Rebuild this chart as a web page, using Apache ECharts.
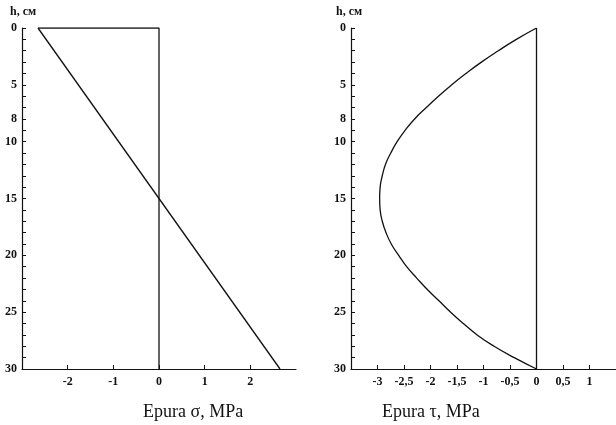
<!DOCTYPE html>
<html>
<head>
<meta charset="utf-8">
<script src="https://cdn.jsdelivr.net/npm/echarts@6/dist/echarts.min.js"></script>
<style>
  html, body { margin: 0; padding: 0; background: #fff; }
  #main { width: 616px; height: 425px; }
</style>
</head>
<body>
<div id="main"></div>
<script>
// data
var hLabels = [0, 5, 8, 10, 15, 20, 25, 30];
var hTicks = [];
for (var i = 0; i <= 30; i++) hTicks.push(i);

// epura sigma: linear, from top to bottom
var sigmaH = [0, 30];
var sigmaVal = [-2.65, 2.65];

// epura tau: curve, h vs tau
var tauH = [0, 1, 2, 3, 4, 5, 6, 7, 8, 9, 10, 11, 12, 13, 14, 15,
  16, 17, 18, 19, 20, 21, 22, 23, 24, 25, 26, 27, 28, 29, 30];
var tauVal = [0, -0.38, -0.72, -1.04, -1.33, -1.6, -1.85, -2.08, -2.3, -2.48, -2.63, -2.75, -2.85, -2.91, -2.95, -2.96,
  -2.95, -2.91, -2.84, -2.74, -2.6, -2.45, -2.26, -2.06, -1.84, -1.62, -1.38, -1.12, -0.8, -0.42, 0];

var ink = '#111';
var serif = '"Liberation Serif", "DejaVu Serif", serif';

function pairs(xs, ys) {
  return xs.map(function (x, i) { return [x, ys[i]]; });
}

function yAx(idx) {
  return {
    gridIndex: idx, type: 'value', inverse: true, min: 0, max: 30,
    axisLine: { show: true, onZero: false, lineStyle: { color: ink, width: 1.2 } },
    axisTick: { show: true, inside: true, length: 4, customValues: hTicks, lineStyle: { color: ink } },
    axisLabel: { customValues: hLabels, color: ink, fontFamily: serif, fontWeight: 'bold', fontSize: 12, margin: 5 },
    splitLine: { show: false }
  };
}

function xAx(idx, min, max, step) {
  return {
    gridIndex: idx, type: 'value', min: min, max: max, interval: step,
    axisLine: { show: true, onZero: false, lineStyle: { color: ink, width: 1.2 } },
    axisTick: { show: true, inside: true, length: 4, lineStyle: { color: ink } },
    axisLabel: {
      showMinLabel: false, showMaxLabel: false, color: ink, fontFamily: serif,
      fontWeight: 'bold', fontSize: 12, margin: 7,
      formatter: function (v) { return String(v).replace('.', ','); }
    },
    splitLine: { show: false }
  };
}

var lineStyle = { color: ink, width: 1.3 };

var myChart = echarts.init(document.getElementById('main'));
myChart.setOption({
  animation: false,
  backgroundColor: '#fff',
  grid: [
    { left: 22, top: 28, width: 274, height: 341 },
    { left: 351, top: 28, width: 265, height: 341 }
  ],
  xAxis: [xAx(0, -3, 3, 1), xAx(1, -3.5, 1.5, 0.5)],
  yAxis: [yAx(0), yAx(1)],
  graphic: [
    { type: 'text', left: 10, top: 6, style: { text: 'h, см', fill: ink, font: 'bold 12px ' + serif } },
    { type: 'text', left: 336, top: 6, style: { text: 'h, см', fill: ink, font: 'bold 12px ' + serif } },
    { type: 'text', left: 143, top: 403, style: { text: 'Epura σ, MPa', fill: ink, font: '18px ' + serif } },
    { type: 'text', left: 382, top: 403, style: { text: 'Epura τ, MPa', fill: ink, font: '18px ' + serif } }
  ],
  series: [
    {
      name: 'sigma', type: 'line', xAxisIndex: 0, yAxisIndex: 0, symbol: 'none',
      lineStyle: lineStyle, data: pairs(sigmaVal, sigmaH)
    },
    {
      name: 'sigma frame', type: 'line', xAxisIndex: 0, yAxisIndex: 0, symbol: 'none',
      lineStyle: lineStyle, data: [[sigmaVal[0], 0], [0, 0], [0, 30]]
    },
    {
      name: 'tau', type: 'line', xAxisIndex: 1, yAxisIndex: 1, symbol: 'none', smooth: true,
      lineStyle: lineStyle, data: pairs(tauVal, tauH)
    },
    {
      name: 'tau zero', type: 'line', xAxisIndex: 1, yAxisIndex: 1, symbol: 'none',
      lineStyle: lineStyle, data: [[0, 0], [0, 30]]
    }
  ]
});
</script>
</body>
</html>
